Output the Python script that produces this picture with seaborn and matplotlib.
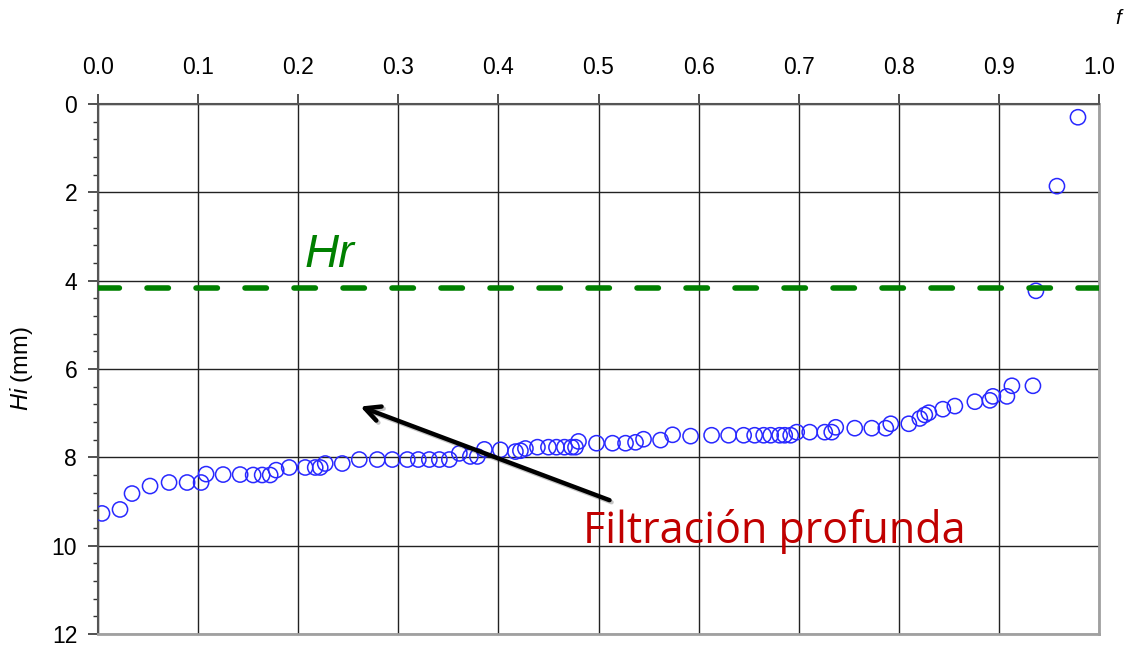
import matplotlib
matplotlib.use("Agg")
import matplotlib.pyplot as plt
import matplotlib.patheffects as pe
from matplotlib.ticker import MultipleLocator
import seaborn as sns
import pandas as pd

# ---- data ----
f_vals = [0.004, 0.022, 0.034, 0.052, 0.071, 0.089, 0.103, 0.108, 0.125, 0.142,
          0.155, 0.164, 0.172, 0.178, 0.191, 0.207, 0.217, 0.222, 0.227, 0.244,
          0.261, 0.279, 0.294, 0.309, 0.320, 0.331, 0.341, 0.351, 0.361, 0.372,
          0.379, 0.386, 0.402, 0.417, 0.422, 0.427, 0.439, 0.450, 0.458, 0.466,
          0.473, 0.477, 0.480, 0.498, 0.514, 0.527, 0.537, 0.545, 0.562, 0.574,
          0.592, 0.613, 0.630, 0.645, 0.656, 0.665, 0.672, 0.681, 0.686, 0.692,
          0.698, 0.711, 0.726, 0.733, 0.737, 0.756, 0.773, 0.787, 0.792, 0.810,
          0.821, 0.826, 0.830, 0.844, 0.856, 0.876, 0.891, 0.894, 0.908, 0.913,
          0.934, 0.937, 0.958, 0.979]
hi_vals = [9.27, 9.18, 8.82, 8.65, 8.57, 8.57, 8.57, 8.38, 8.39, 8.39,
           8.40, 8.40, 8.40, 8.29, 8.23, 8.23, 8.23, 8.23, 8.14, 8.14,
           8.05, 8.05, 8.05, 8.05, 8.05, 8.05, 8.05, 8.05, 7.91, 7.98,
           7.98, 7.82, 7.83, 7.87, 7.85, 7.80, 7.77, 7.77, 7.77, 7.77,
           7.77, 7.77, 7.64, 7.68, 7.68, 7.68, 7.66, 7.59, 7.61, 7.49,
           7.52, 7.50, 7.50, 7.50, 7.50, 7.50, 7.50, 7.50, 7.50, 7.50,
           7.43, 7.43, 7.43, 7.43, 7.32, 7.34, 7.34, 7.34, 7.24, 7.24,
           7.12, 7.04, 6.99, 6.91, 6.84, 6.74, 6.71, 6.62, 6.62, 6.38,
           6.38, 4.23, 1.86, 0.30]
hr_value = 4.17
x_ticks = [0.0, 0.1, 0.2, 0.3, 0.4, 0.5, 0.6, 0.7, 0.8, 0.9, 1.0]
y_ticks = [0, 2, 4, 6, 8, 10, 12]
arrow_tail = (0.511, 8.97)
arrow_head = (0.262, 6.85)

df = pd.DataFrame({"f": f_vals, "Hi": hi_vals})

sns.set_theme(style="white")
plt.rcParams["font.family"] = ["Liberation Sans", "DejaVu Sans"]
plt.rcParams["mathtext.fontset"] = "custom"
plt.rcParams["mathtext.it"] = "Liberation Sans:italic"
plt.rcParams["mathtext.rm"] = "Liberation Sans"

fig = plt.figure(figsize=(11.33, 6.5), dpi=100)
ax = fig.add_axes([98 / 1133, 1 - 634 / 650, (1099 - 98) / 1133, (634 - 104) / 650])

# grid
ax.set_axisbelow(True)
ax.grid(True, which="major", color="#222222", linewidth=1.0)

sns.scatterplot(data=df, x="f", y="Hi", ax=ax, marker="o", s=120,
                facecolors="none", edgecolor="#2828FF", linewidth=1.1, zorder=4)

# Hr line
ax.axhline(hr_value, color="#008000", linewidth=4.0, linestyle=(0, (3.85, 4.97)),
           dash_capstyle="round", zorder=5)
ax.text(0.206, 3.69, "Hr", color="#008000", fontsize=34, fontstyle="italic",
        ha="left", va="baseline", zorder=6)

# arrow
ax.annotate("", xy=arrow_head, xytext=arrow_tail,
            arrowprops=dict(arrowstyle="->,head_length=0.9,head_width=0.45",
                            color="black", lw=3.2, shrinkA=0, shrinkB=0,
                            path_effects=[pe.SimpleLineShadow(offset=(1.5, -1.5), alpha=0.25),
                                          pe.Normal()]),
            zorder=7)
ax.text(0.485, 9.94, "Filtración profunda", color="#C00000", fontsize=31,
        family=["Open Sans", "DejaVu Sans"], ha="left", va="baseline", zorder=6)

# axes
ax.set_xlim(0, 1)
ax.set_ylim(12, 0)
ax.xaxis.set_ticks_position("top")
ax.xaxis.set_label_position("top")
ax.set_xticks(x_ticks)
ax.set_xticklabels([f"{v:.1f}" for v in x_ticks])
ax.set_yticks(y_ticks)
ax.set_yticklabels([str(v) for v in y_ticks])
ax.yaxis.set_minor_locator(MultipleLocator(0.4))
ax.tick_params(axis="x", which="major", direction="out", length=7, width=1.2,
               color="#333333", labelsize=16.5, labelcolor="black", pad=11,
               top=True, bottom=False, labeltop=True, labelbottom=False)
ax.tick_params(axis="y", which="major", direction="out", length=7, width=1.2,
               color="#333333", labelsize=16.5, labelcolor="black", pad=8, left=True)
ax.tick_params(axis="y", which="minor", direction="out", length=3.5, width=1.0,
               color="#333333", left=True)
ax.set_xlabel("")
ax.set_ylabel(r"$Hi$ (mm)", fontsize=17, labelpad=12, color="black")

for side in ["top", "left"]:
    ax.spines[side].set_color("#555555")
    ax.spines[side].set_linewidth(1.5)
for side in ["bottom", "right"]:
    ax.spines[side].set_color("#A0A0A0")
    ax.spines[side].set_linewidth(2.0)

fig.text(1118 / 1133, 1 - 24 / 650, "f", fontsize=15, fontstyle="italic",
         color="black", ha="center", va="baseline")

fig.savefig("out.png", dpi=100)
